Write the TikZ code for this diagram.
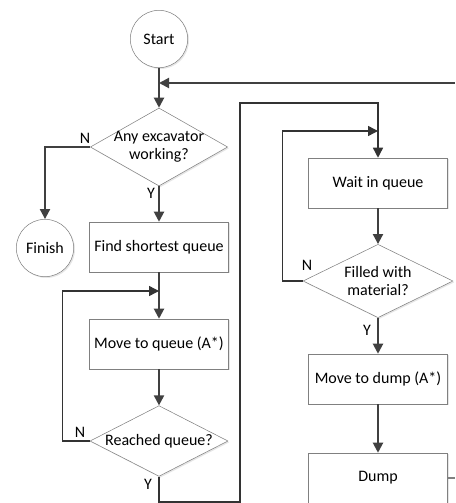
\documentclass[tikz,border=0pt]{standalone}
\usepackage{fontspec}
\setmainfont{Carlito}
\usetikzlibrary{shapes.geometric, arrows.meta, shadows}

\begin{document}
\begin{tikzpicture}[x=0.75pt, y=-0.75pt, font=\fontsize{12}{13.5}\selectfont,
    term/.style={draw=gray, circle, minimum size=43pt, inner sep=0pt, fill=white, drop shadow={opacity=0.2, shadow xshift=1pt, shadow yshift=-1pt}},
    proc/.style={draw=gray, rectangle, minimum width=104pt, minimum height=37.5pt, fill=white, drop shadow={opacity=0.2, shadow xshift=1pt, shadow yshift=-1pt}},
    test/.style={draw=gray, diamond, inner sep=-3pt, align=center, fill=white, drop shadow={opacity=0.2, shadow xshift=1pt, shadow yshift=-1pt}},
    n/.style={-{Triangle[length=7.5pt, width=7.5pt]}, line width=1.5pt, draw=black!75},
    lp/.style={line width=1.1pt, draw=black!80},
    yn/.style={inner sep=0pt}]
    \useasboundingbox (0,0) rectangle (455,503);
    % nodes
    \node[term] (start) at (159,39) {Start};
    \node[term] (finish) at (45,248) {Finish};
    \node[test, minimum width=103pt, minimum height=58.5pt, aspect=1.75] (any) at (159,147) {Any excavator\\working?};
    \node[proc] (find) at (159,247) {Find shortest queue};
    \node[proc] (toqueue) at (159,344) {Move to queue (A*)};
    \node[test, minimum width=103.5pt, minimum height=53pt, aspect=1.95] (reached) at (159,441) {Reached queue?};
    \node[proc] (wait) at (378,183) {Wait in queue};
    \node[test, minimum width=112.5pt, minimum height=55pt, aspect=2.05] (filled) at (378,281) {Filled with\\material?};
    \node[proc] (todump) at (378,379) {Move to dump (A*)};
    \node[proc] (dump) at (378,478) {Dump};
    \coordinate (in) at (455,83);
    \coordinate (back) at (159,83);
    \coordinate (retry) at (159,291);
    \coordinate (down) at (240,502);
    \coordinate (up) at (240,103);
    \coordinate (wake) at (378,131);
    \coordinate (out) at (455,478);
    % labels
    \node[yn] (n1) at (85,138) {N};
    \node[yn] (y1) at (151,193) {Y};
    \node[yn] (n2) at (80,432) {N};
    \node[yn] (y2) at (148,484) {Y};
    \node[yn] (n3) at (307,265) {N};
    \node[yn] (y3) at (367,330) {Y};
    % edges
    \draw [n] (start) -- (any);
    \draw [n] (in) -- (back);
    \draw [n] (any.west) -| (finish);
    \draw [n] (any) -- (find);
    \draw [n] (find) -- (toqueue);
    \draw [n] (toqueue) -- (reached);
    \draw [lp, -{Triangle[length=7.5pt, width=7.5pt]}] (reached.west) -- ++(-27,0) |- (retry);
    \draw [lp, -{Triangle[length=7.5pt, width=7.5pt]}] (reached.south) |- (down) -- (up) -| (wait.north);
    \draw [n] (wait) -- (filled);
    \draw [lp, -{Triangle[length=7.5pt, width=7.5pt]}] (filled.west) -- ++(-20,0) |- (wake);
    \draw [n] (filled) -- (todump);
    \draw [n] (todump) -- (dump);
    \draw [lp, draw=gray] (dump) -- (out);
\end{tikzpicture}
\end{document}
